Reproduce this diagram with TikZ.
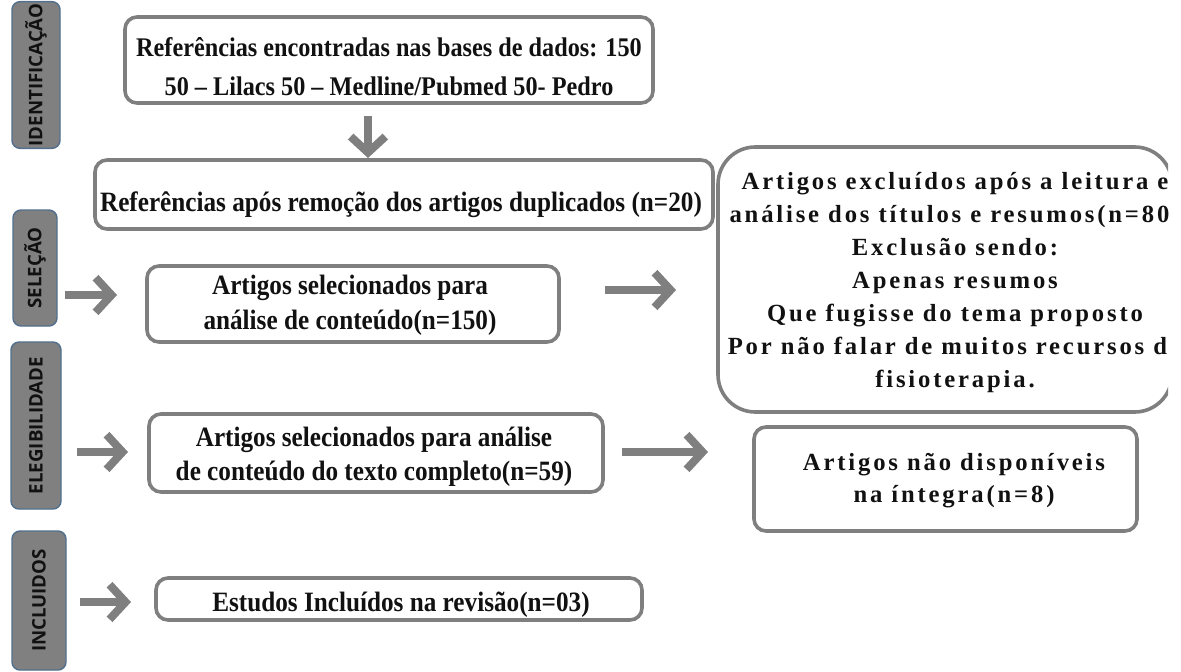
\documentclass[tikz,border=0pt]{standalone}
\usepackage{fontspec}
\setmainfont{Liberation Serif}
\newfontfamily\boxbold[FakeStretch=0.9]{Liberation Serif Bold}
\newfontfamily\widebold[LetterSpace=11.5]{Liberation Serif Bold}
\newfontfamily\labbold{Open Sans Bold}
\usetikzlibrary{arrows.meta}
\definecolor{bordergray}{HTML}{7F7F7F}
\definecolor{labfill}{HTML}{808080}
\definecolor{labborder}{HTML}{52708E}
\definecolor{txt}{HTML}{111111}
\tikzset{
  boxshape/.style={draw=bordergray, line width=2.7pt, rounded corners=9pt, fill=white, inner sep=0pt},
  boxtext/.style={align=center, inner sep=0pt, text=txt, font=\boxbold\fontsize{21}{29}\selectfont},
  widetext/.style={align=center, inner sep=0pt, text=txt, font=\widebold\fontsize{18.5}{24.75}\selectfont},
  sidelab/.style={draw=labborder, line width=1.1pt, fill=labfill, rounded corners=6pt, rotate=90, inner sep=0pt, text=txt, font=\labbold\fontsize{14}{16}\selectfont},
  blockarrow/.style={draw=bordergray, line width=6pt, -{Straight Barb[length=12pt,width=26pt]}}
}
\begin{document}
\begin{tikzpicture}[x=0.75pt,y=-0.75pt]
\useasboundingbox (0,0) rectangle (1181,671);
\begin{scope}
\clip (-2,-2) rectangle (1168,673);
% side labels
\node[sidelab, minimum width=110pt, minimum height=36pt] (lab1) at (36,75) {IDENTIFICAÇÃO};
\node[sidelab, minimum width=87pt, minimum height=33pt] (lab2) at (35,268) {SELEÇÃO};
\node[sidelab, minimum width=125.25pt, minimum height=37.5pt] (lab3) at (36,425.5) {ELEGIBILIDADE};
\node[sidelab, minimum width=104.25pt, minimum height=40.5pt] (lab4) at (39,600.5) {INCLUIDOS};
% boxes
\node[boxshape, minimum width=396pt, minimum height=64.5pt] (b1) at (389,60) {};
\node[boxshape, minimum width=463.5pt, minimum height=51.75pt] (b2) at (404,194.5) {};
\node[boxshape, rounded corners=28pt, minimum width=340.5pt, minimum height=198.75pt] (b3) at (945,279.5) {};
\node[boxshape, minimum width=309pt, minimum height=57pt] (b4) at (353,304) {};
\node[boxshape, minimum width=340.5pt, minimum height=58.5pt] (b5) at (376,453) {};
\node[boxshape, minimum width=287.25pt, minimum height=78pt] (b6) at (945.5,479) {};
\node[boxshape, minimum width=364.5pt, minimum height=31.5pt] (b7) at (399,599) {};
% texts
\node[boxtext, font=\boxbold\fontsize{20.2}{29}\selectfont] (t1) at (389,66.5) {Referências encontradas nas bases de dados: 150\\50 – Lilacs 50 – Medline/Pubmed 50- Pedro};
\node[boxtext] (t2) at (401,205) {Referências após remoção dos artigos duplicados (n=20)};
\node[widetext] (t3) at (955,283) {Artigos excluídos após a leitura e\\análise dos títulos e resumos(n=80)\\Exclusão sendo:\\Apenas resumos\\Que fugisse do tema proposto\\Por não falar de muitos recursos da\\fisioterapia.};
\node[boxtext, font=\boxbold\fontsize{21}{26}\selectfont] (t4) at (350,305.5) {Artigos selecionados para\\análise de conteúdo(n=150)};
\node[boxtext, font=\boxbold\fontsize{21}{25.5}\selectfont] (t5) at (374,457) {Artigos selecionados para análise\\de conteúdo do texto completo(n=59)};
\node[widetext, font=\widebold\fontsize{18.5}{24}\selectfont] (t6) at (954,481) {Artigos não disponíveis\\na íntegra(n=8)};
\node[boxtext] (t7) at (401,605) {Estudos Incluídos na revisão(n=03)};
% arrow end points
\coordinate (d0) at (368,116);
\coordinate (d1) at (368,158);
\coordinate (l1s) at (65,295);
\coordinate (l1e) at (117,295);
\coordinate (l2s) at (77,452);
\coordinate (l2e) at (128,452);
\coordinate (l3s) at (80,602);
\coordinate (l3e) at (131,602);
\coordinate (m1s) at (605,290);
\coordinate (m1e) at (676,290);
\coordinate (m2s) at (622,452);
\coordinate (m2e) at (708,452);
\draw[blockarrow] (d0) -- (d1);
\draw[blockarrow] (l1s) -- (l1e);
\draw[blockarrow] (l2s) -- (l2e);
\draw[blockarrow] (l3s) -- (l3e);
\draw[blockarrow] (m1s) -- (m1e);
\draw[blockarrow] (m2s) -- (m2e);
\end{scope}
\end{tikzpicture}
\end{document}
